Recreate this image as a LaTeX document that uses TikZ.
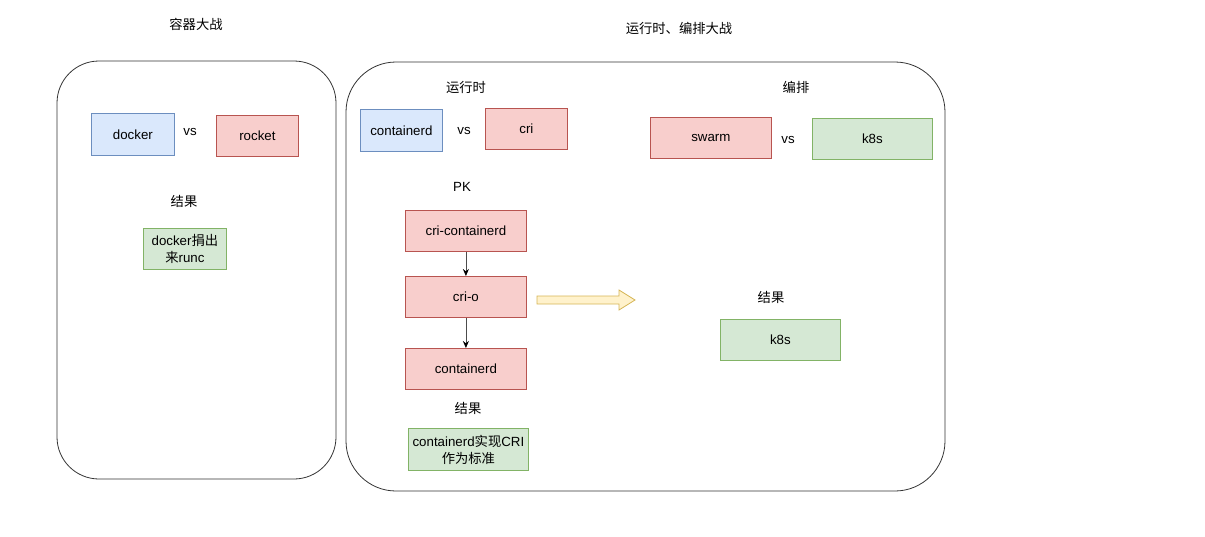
\documentclass[tikz,border=0pt]{standalone}
\usepackage{fontspec}
\setmainfont{Liberation Sans}
\newfontfamily\cjk{Noto Sans CJK SC}
\usetikzlibrary{arrows.meta}
\definecolor{bluef}{HTML}{DAE8FC}\definecolor{blued}{HTML}{6C8EBF}
\definecolor{redf}{HTML}{F8CECC}\definecolor{redd}{HTML}{B85450}
\definecolor{greenf}{HTML}{D5E8D4}\definecolor{greend}{HTML}{82B366}
\definecolor{yelf}{HTML}{FFF2CC}\definecolor{yeld}{HTML}{D6B656}
\begin{document}
\begin{tikzpicture}[x=1pt,y=-1pt,
  every node/.style={font=\fontsize{13.3}{17}\selectfont, inner sep=0pt},
  bx/.style={draw, line width=0.8pt, anchor=north west, align=center},
  bluebox/.style={bx, fill=bluef, draw=blued},
  redbox/.style={bx, fill=redf, draw=redd},
  greenbox/.style={bx, fill=greenf, draw=greend},
  lbl/.style={text=black},
  conn/.style={draw=black!70, line width=0.8pt, -{Stealth[length=7pt,width=6pt,color=black]}},
  panel/.style={draw=black!80, line width=0.8pt}
]
\useasboundingbox (0,0) rectangle (1205,536);
% panels
\draw[panel, rounded corners=42pt] (57,61) rectangle (336,479);
\draw[panel, rounded corners=50pt] (346,62) rectangle (945,491);
% titles
\node[lbl] (t1) at (196,24) {\cjk 容器大战};
\node[lbl] (t2) at (679,28) {\cjk 运行时、编排大战};
% left panel
\node[bluebox, minimum width=83pt, minimum height=42pt] (docker) at (91,113) {docker};
\node[lbl] (vs1) at (190,132) {vs};
\node[redbox, minimum width=82pt, minimum height=41pt] (rocket) at (216,115) {rocket};
\node[lbl] (r1) at (184,201) {\cjk 结果};
\node[greenbox, minimum width=83pt, minimum height=41pt] (runc) at (143,228) {docker{\cjk 捐出}\\{\cjk 来}runc};
% runtime
\node[lbl] (rt) at (466,87) {\cjk 运行时};
\node[bluebox, minimum width=82pt, minimum height=42pt] (ctd) at (360,109) {containerd};
\node[lbl] (vs2) at (464,131) {vs};
\node[redbox, minimum width=82pt, minimum height=41pt] (cri) at (485,108) {cri};
% orchestration
\node[lbl] (bp) at (796,87) {\cjk 编排};
\node[redbox, minimum width=121pt, minimum height=41pt] (swarm) at (650,117) {swarm};
\node[lbl] (vs3) at (788,140) {vs};
\node[greenbox, minimum width=120pt, minimum height=41pt] (k8s1) at (812,118) {k8s};
% PK
\node[lbl] (pk) at (462,187) {PK};
\node[redbox, minimum width=121pt, minimum height=41pt] (cc) at (405,210) {cri-containerd};
\node[redbox, minimum width=121pt, minimum height=41pt] (crio) at (405,276) {cri-o};
\node[redbox, minimum width=121pt, minimum height=41pt] (ctd2) at (405,348) {containerd};
\draw[conn] (cc.south) -- (crio.north);
\draw[conn] (crio.south) -- (ctd2.north);
\node[lbl] (r2) at (468,408) {\cjk 结果};
\node[greenbox, minimum width=120pt, minimum height=42pt] (std) at (408,428) {containerd{\cjk 实现}CRI\\{\cjk 作为标准}};
% fat arrow
\coordinate (fa) at (537,300);
\coordinate (fb) at (635,300);
\draw[fill=yelf, draw=yeld, line width=0.8pt] (fa) ++(0,-4) -- (619,296) -- (619,290) -- (fb) -- (619,310) -- (619,304) -- (537,304) -- cycle;
\node[lbl] (r3) at (771,297) {\cjk 结果};
\node[greenbox, minimum width=120pt, minimum height=41pt] (k8s2) at (720,319) {k8s};
\end{tikzpicture}
\end{document}
